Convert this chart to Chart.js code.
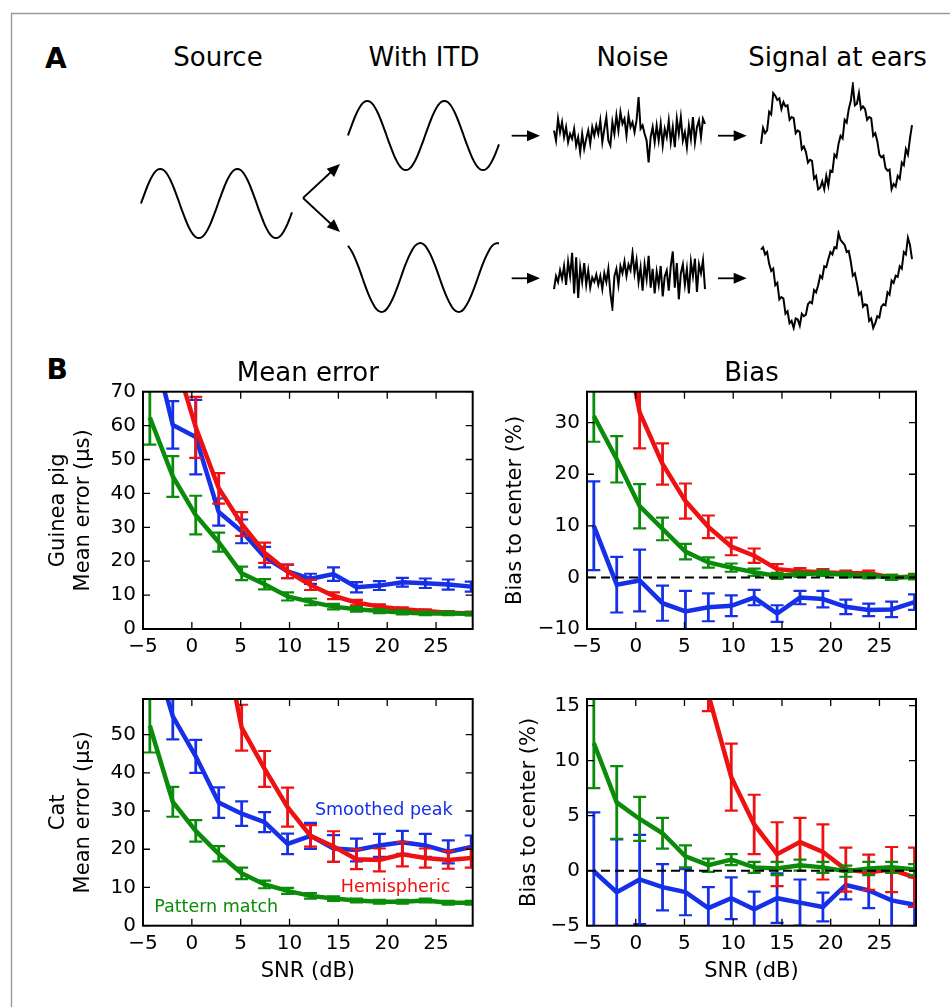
<!DOCTYPE html>
<html>
<head>
<meta charset="utf-8">
<script src="https://cdn.jsdelivr.net/npm/chart.js@4.4.1/dist/chart.umd.min.js"></script>
<style>
  html, body { margin: 0; padding: 0; background: #fff; }
  body { width: 950px; height: 1007px; position: relative; overflow: hidden; }
  canvas, svg { position: absolute; }
</style>
</head>
<body>
<svg id="deco" width="950" height="1007" style="left:0;top:0" font-family="'DejaVu Sans', sans-serif">
  <path d="M11.5 1007 V13.5 H950" fill="none" stroke="#9a9a9a" stroke-width="1.4"/>
  <text x="45" y="68.3" font-size="28" font-weight="bold">A</text>
  <text x="46.5" y="379.3" font-size="28" font-weight="bold">B</text>
  <g font-size="26" text-anchor="middle">
    <text x="218" y="66">Source</text>
    <text x="424" y="66">With ITD</text>
    <text x="632.5" y="66">Noise</text>
    <text x="837.5" y="66">Signal at ears</text>
  </g>
  <g stroke="#000" stroke-width="1.8" fill="#000">
    <line x1="303" y1="198" x2="331" y2="172"/>
    <polygon points="340,164 334.1,176.9 326.7,168.8" stroke="none"/>
    <line x1="303" y1="198" x2="331" y2="224"/>
    <polygon points="340,232 326.7,227.3 334.1,219.2" stroke="none"/>
    <line x1="511.7" y1="135.7" x2="529" y2="135.7"/>
    <polygon points="540,135.7 527,130.2 527,141.2" stroke="none"/>
    <line x1="511.7" y1="278.3" x2="529" y2="278.3"/>
    <polygon points="540,278.3 527,272.8 527,283.8" stroke="none"/>
    <line x1="718" y1="135.7" x2="735" y2="135.7"/>
    <polygon points="746.7,135.7 733.7,130.2 733.7,141.2" stroke="none"/>
    <line x1="718" y1="278.3" x2="735" y2="278.3"/>
    <polygon points="746.7,278.3 733.7,272.8 733.7,283.8" stroke="none"/>
  </g>
</svg>

<canvas id="wSource"></canvas>
<canvas id="wItdTop"></canvas>
<canvas id="wItdBottom"></canvas>
<canvas id="wNoiseTop"></canvas>
<canvas id="wNoiseBottom"></canvas>
<canvas id="wEarsTop"></canvas>
<canvas id="wEarsBottom"></canvas>

<canvas id="gpError" width="453" height="315" style="left:30px;top:350px"></canvas>
<canvas id="gpBias" width="436" height="315" style="left:490px;top:350px"></canvas>
<canvas id="catError" width="453" height="308" style="left:30px;top:680px"></canvas>
<canvas id="catBias" width="436" height="308" style="left:490px;top:680px"></canvas>

<script>
// ---- panel A: waveforms (normalised amplitude) ----
const sourceWave = [0, 0.26, 0.5, 0.71, 0.87, 0.97, 1, 0.97, 0.87, 0.71, 0.5, 0.26,
  0, -0.26, -0.5, -0.71, -0.87, -0.97, -1, -0.97, -0.87, -0.71, -0.5, -0.26,
  0, 0.26, 0.5, 0.71, 0.87, 0.97, 1, 0.97, 0.87, 0.71, 0.5, 0.26,
  0, -0.26, -0.5, -0.71, -0.87, -0.97, -1, -0.97, -0.87, -0.71, -0.5, -0.26];
const delayedWave = [0.92, 0.78, 0.6, 0.37, 0.12, -0.15, -0.4, -0.62, -0.8, -0.93, -0.99, -0.99,
  -0.92, -0.78, -0.6, -0.37, -0.12, 0.15, 0.4, 0.62, 0.8, 0.93, 0.99, 0.99,
  0.92, 0.78, 0.6, 0.37, 0.12, -0.15, -0.4, -0.62, -0.8, -0.93, -0.99, -0.99,
  -0.92, -0.78, -0.6, -0.37, -0.12, 0.15, 0.4, 0.62, 0.8, 0.93, 0.99, 0.99];
const noiseTop = [0.0, -0.3, 0.35, -0.05, 0.25, -0.2, 0.1, -0.35, -0.1, -0.25,
  0.05, -0.45, -0.2, -0.65, -0.1, -0.55, -0.25, 0.0, -0.4, 0.1,
  -0.15, 0.15, -0.1, 0.3, -0.35, 0.05, 0.4, -0.3, -0.45, 0.25,
  -0.1, 0.45, 0.0, 0.55, 0.2, 0.35, -0.15, 0.45, 0.1, 0.25,
  -0.05, 0.3, 1.0, 0.05, 0.15, -0.1, -0.3, -0.95, -0.2, 0.1,
  -0.35, 0.15, -0.3, 0.2, -0.45, 0.05, -0.2, 0.3, -0.35, 0.1,
  -0.5, 0.35, -0.1, 0.4, -0.3, -0.05, -0.5, 0.15, -0.25, 0.4,
  -0.35, 0.1, 0.3, -0.2, 0.35, 0.2];
const noiseBottom = [-0.35, 0.1, -0.1, 0.3, 0.0, 0.45, -0.2, 0.6, 0.1, 0.9,
  -0.5, 0.75, -0.65, 0.4, -0.1, 0.55, -0.2, 0.3, -0.3, 0.05,
  -0.1, 0.15, -0.2, 0.1, -0.35, 0.2, -0.1, 0.35, -0.5, -1.0,
  0.1, 0.35, -0.2, 0.45, 0.2, 0.6, 0.1, 0.5, 0.3, 0.9,
  0.2, 0.65, -0.1, 0.4, -0.4, 0.5, 0.0, 0.8, -0.3, 0.35,
  -0.5, 0.25, -0.2, 0.45, -0.6, 0.1, 0.3, -0.4, 0.45, 0.95,
  -0.3, 0.55, -0.7, 0.2, 0.5, -0.2, 0.35, -0.5, 0.6, 0.1,
  0.7, -0.45, 0.5, 0.2, 0.65, -0.35];
const earsTop = [-0.1, 0.2, 0.1, 0.15, 0.5, 0.45, 0.85,
  0.8, 0.72, 0.75, 0.55, 0.68, 0.6, 0.62, 0.35,
  0.4, 0.38, 0.1, 0.15, 0.12, -0.2, -0.15, -0.25, -0.45, -0.4, -0.42, -0.75, -0.7,
  -0.95, -0.92, -0.8, -0.95, -0.7, -0.88,
  -0.6, -0.62, -0.3, -0.35, -0.1, 0.05, 0.0, 0.35, 0.3,
  0.55, 0.7, 1.0, 0.62, 0.65, 0.85, 0.55, 0.6,
  0.55, 0.35, 0.4, 0.38, 0.05, 0.1, -0.05, -0.3,
  -0.35, -0.32, -0.55, -0.6, -0.58, -0.95, -0.85, -0.9,
  -0.7, -0.75, -0.45, -0.5, -0.2, -0.3, 0.0, 0.25];
const earsBottom = [0.65, 0.7, 0.55, 0.6, 0.35, 0.2, 0.25,
  -0.1, -0.05, -0.4, -0.35, -0.38, -0.7, -0.65, -0.9,
  -0.85, -1.0, -0.8, -0.82, -0.95, -0.7, -0.75, -0.72, -0.5, -0.45,
  -0.48, -0.2, -0.25, -0.1, 0.1, 0.05, 0.3, 0.28, 0.45, 0.6, 0.55, 0.7,
  0.68, 1.0, 0.85, 0.8, 0.75, 0.6, 0.62, 0.4,
  0.1, 0.15, -0.05, -0.3, -0.25, -0.55, -0.5, -0.52,
  -0.85, -0.8, -1.0, -0.9, -0.75, -0.78, -0.55, -0.5,
  -0.52, -0.25, -0.3, 0.0, -0.05, 0.1, 0.08, 0.3, 0.25, 0.6, 0.55, 0.9, 0.75, 0.45];

// ---- panel B: SNR axis and tick labels ----
const snrDb = [-4.3, -1.95, 0.4, 2.75, 5.1, 7.45, 9.8, 12.15, 14.5, 16.85, 19.2, 21.55, 23.9, 26.25, 28.6];
const snrTicks = [-5, 0, 5, 10, 15, 20, 25];
const gpErrorTicks = [0, 10, 20, 30, 40, 50, 60, 70];
const gpBiasTicks = [-10, 0, 10, 20, 30];
const catErrorTicks = [0, 10, 20, 30, 40, 50];
const catBiasTicks = [-5, 0, 5, 10, 15];

// guinea pig, mean error (us)
const gpErrPattern = [62.4, 45, 33.6, 25.6, 16.4, 13.2, 9.6, 8.0, 6.6, 5.8, 5.3, 4.9, 4.6, 4.6, 4.5];
const gpErrPatternSd = [8, 6, 5.7, 2.8, 2, 1.5, 1.2, 1, 0.8, 0.7, 0.6, 0.6, 0.5, 0.5, 0.5];
const gpErrHemi = [110, 82, 59.5, 41.5, 31, 22.5, 17, 13, 9.8, 7.8, 6.6, 5.8, 5.3, 4.8, 4.6];
const gpErrHemiSd = [10, 9, 9, 4.5, 3.5, 3, 2, 1.5, 1, 0.8, 0.7, 0.6, 0.5, 0.5, 0.5];
const gpErrSmooth = [88, 60.2, 56.6, 34.5, 28.8, 21.2, 17.0, 14.8, 16.2, 12.3, 12.8, 13.8, 13.5, 13.1, 12.5];
const gpErrSmoothSd = [10, 7, 11, 4, 3.5, 3, 2, 1.5, 2, 1.5, 1.3, 1.3, 1.4, 1.5, 1.5];

// guinea pig, bias to center (%)
const gpBiasPattern = [31.3, 22.9, 13.8, 9.4, 5.0, 2.9, 1.9, 1.0, 0.3, 0.6, 0.8, 0.5, 0.3, 0.0, 0.1];
const gpBiasPatternSd = [5, 4.5, 4.3, 2.2, 1.5, 1.0, 0.8, 0.7, 0.6, 0.5, 0.5, 0.5, 0.5, 0.5, 0.5];
const gpBiasHemi = [75, 55, 32, 22, 14.8, 9.8, 6.0, 4.2, 1.6, 1.2, 1.0, 0.8, 0.8, 0.0, 0.2];
const gpBiasHemiSd = [8, 8, 7, 4, 3.4, 2.2, 1.7, 1.4, 1.0, 0.6, 0.6, 0.5, 0.5, 0.5, 0.5];
const gpBiasSmooth = [10, -1.4, -0.6, -5.0, -6.6, -5.8, -5.5, -3.9, -7.0, -3.9, -4.2, -5.7, -6.3, -6.2, -4.8];
const gpBiasSmoothSd = [8.6, 5.4, 6, 3.4, 4, 2.7, 2, 1.5, 1.6, 1.3, 1.6, 1.4, 1.2, 1.5, 1.5];

// cat, mean error (us)
const catErrPattern = [52.3, 32.4, 24.8, 18.8, 13.7, 10.8, 9.1, 7.8, 7.1, 6.6, 6.25, 6.25, 6.6, 6.0, 6.0];
const catErrPatternSd = [7, 3.9, 2.8, 2.0, 1.5, 1.0, 0.8, 0.7, 0.6, 0.5, 0.5, 0.5, 0.5, 0.5, 0.5];
const catErrHemi = [140, 115, 100, 82, 51.8, 41, 31, 23.5, 20.7, 17.4, 17.2, 18.7, 17.7, 17.2, 17.7];
const catErrHemiSd = [8, 8, 8, 8, 6, 4.7, 5.1, 2.8, 4, 2.6, 3, 3.2, 2.5, 2.3, 2.5];
const catErrSmooth = [75, 54.75, 44.3, 32.2, 29.3, 27.1, 21.4, 23.5, 20.2, 19.8, 21.0, 21.8, 21.0, 19.3, 20.6];
const catErrSmoothSd = [8, 6, 4.3, 4, 3.2, 2.6, 2.7, 3.4, 3.5, 3, 3, 3, 3, 3, 3];

// cat, bias to center (%)
const catBiasPattern = [11.6, 6.2, 4.7, 3.4, 1.3, 0.5, 1.0, 0.3, 0.2, 0.5, 0.3, -0.05, 0.2, 0.3, 0.1];
const catBiasPatternSd = [4.1, 3.3, 2.0, 1.4, 1.0, 0.6, 0.5, 0.5, 0.6, 0.5, 0.5, 0.5, 0.6, 0.5, 0.5];
const catBiasHemi = [40, 35, 30, 26, 22, 16.0, 8.5, 4.2, 1.5, 2.6, 1.7, 0.1, -0.15, 0.1, -0.6];
const catBiasHemiSd = [3, 3, 3, 3, 3, 1.5, 3.05, 2.7, 2.9, 2.2, 2.5, 2.0, 1.6, 2.05, 2.7];
const catBiasSmooth = [-0.05, -1.95, -0.8, -1.5, -1.95, -3.4, -2.5, -3.5, -2.5, -2.9, -3.3, -1.3, -1.8, -2.7, -3.1];
const catBiasSmoothSd = [5.35, 4.8, 4.05, 2.1, 2.1, 1.9, 1.9, 1.6, 2.25, 2.1, 1.3, 1.3, 1.6, 2.5, 2.5];

const BLUE = '#1530e6';
const GREEN = '#0a8c0a';
const RED = '#ee1111';
const FONT = "'DejaVu Sans', sans-serif";

Chart.defaults.font.family = FONT;
Chart.defaults.color = '#000';

// small waveform plots of panel A
function waveChart(id, values, box, tension) {
  const pad = 3;
  const cv = document.getElementById(id);
  cv.width = Math.round(box.r - box.l + 2 * pad);
  cv.height = Math.round(box.b - box.t + 2 * pad);
  cv.style.left = (box.l - pad) + 'px';
  cv.style.top = (box.t - pad) + 'px';
  new Chart(cv, {
    type: 'line',
    data: {
      labels: values.map((v, i) => i),
      datasets: [{ data: values, borderColor: '#000', borderWidth: 2, pointRadius: 0, tension: tension, clip: false }]
    },
    options: {
      responsive: false, animation: false, events: [],
      layout: { padding: pad },
      plugins: { legend: { display: false }, tooltip: { enabled: false } },
      scales: { x: { display: false }, y: { display: false, min: -1, max: 1 } }
    }
  });
}

waveChart('wSource', sourceWave, { l: 141, r: 292, t: 169, b: 238 }, 0.4);
waveChart('wItdTop', sourceWave, { l: 347.7, r: 498.3, t: 100.7, b: 170 }, 0.4);
waveChart('wItdBottom', delayedWave, { l: 347.7, r: 498.3, t: 243.3, b: 312.3 }, 0.4);
waveChart('wNoiseTop', noiseTop, { l: 554, r: 705, t: 96.7, b: 163.3 }, 0);
waveChart('wNoiseBottom', noiseBottom, { l: 554, r: 705, t: 250, b: 308.3 }, 0);
waveChart('wEarsTop', earsTop, { l: 760.7, r: 911.7, t: 85, b: 191.7 }, 0);
waveChart('wEarsBottom', earsBottom, { l: 760.7, r: 911.7, t: 233.3, b: 328.3 }, 0);

// error bars, frame, inward ticks, zero line and titles
const axesFrame = {
  id: 'axesFrame',
  afterDatasetDraw(chart, args) {
    const ds = chart.data.datasets[args.index];
    if (!ds.errors) return;
    const { ctx, chartArea: a, scales: { x, y } } = chart;
    ctx.save();
    ctx.beginPath();
    ctx.rect(a.left, a.top, a.right - a.left, a.bottom - a.top);
    ctx.clip();
    ctx.strokeStyle = ds.borderColor;
    ds.data.forEach((p, i) => {
      const px = x.getPixelForValue(p.x);
      const lo = y.getPixelForValue(p.y - ds.errors[i]);
      const hi = y.getPixelForValue(p.y + ds.errors[i]);
      ctx.lineWidth = 2.8;
      ctx.beginPath();
      ctx.moveTo(px, lo); ctx.lineTo(px, hi);
      ctx.stroke();
      ctx.lineWidth = 2.2;
      ctx.beginPath();
      ctx.moveTo(px - 6.5, lo); ctx.lineTo(px + 6.5, lo);
      ctx.moveTo(px - 6.5, hi); ctx.lineTo(px + 6.5, hi);
      ctx.stroke();
    });
    ctx.restore();
  },
  afterDatasetsDraw(chart, args, opts) {
    const { ctx, chartArea: a, scales: { x, y } } = chart;
    ctx.save();
    if (opts.zeroLine) {
      const py = y.getPixelForValue(0);
      ctx.strokeStyle = '#000';
      ctx.lineWidth = 2;
      ctx.setLineDash([9, 5]);
      ctx.beginPath();
      ctx.moveTo(a.left, py); ctx.lineTo(a.right, py);
      ctx.stroke();
      ctx.setLineDash([]);
    }
    ctx.strokeStyle = '#000';
    ctx.lineWidth = 1.3;
    ctx.beginPath();
    x.ticks.forEach(t => {
      const px = x.getPixelForValue(t.value);
      ctx.moveTo(px, a.bottom); ctx.lineTo(px, a.bottom - 7);
      ctx.moveTo(px, a.top); ctx.lineTo(px, a.top + 7);
    });
    y.ticks.forEach(t => {
      const py = y.getPixelForValue(t.value);
      ctx.moveTo(a.left, py); ctx.lineTo(a.left + 7, py);
      ctx.moveTo(a.right, py); ctx.lineTo(a.right - 7, py);
    });
    ctx.stroke();
    ctx.lineWidth = 2;
    ctx.strokeRect(a.left, a.top, a.right - a.left, a.bottom - a.top);

    if (opts.title) {
      ctx.fillStyle = '#000';
      ctx.font = '26px ' + FONT;
      ctx.textAlign = 'center';
      ctx.textBaseline = 'alphabetic';
      ctx.fillText(opts.title, (a.left + a.right) / 2, a.top - 10.7);
    }
    (opts.notes || []).forEach(n => {
      ctx.fillStyle = n.color;
      ctx.font = '17.5px ' + FONT;
      ctx.textAlign = 'left';
      ctx.textBaseline = 'alphabetic';
      ctx.fillText(n.text, x.getPixelForValue(n.x), y.getPixelForValue(n.y));
    });
    ctx.restore();
  }
};

const fmt = v => (v < 0 ? '\u2212' + Math.abs(v) : String(v));

function panel(id, cfg) {
  const series = [
    { mean: cfg.pattern, sd: cfg.patternSd, color: GREEN },
    { mean: cfg.hemi, sd: cfg.hemiSd, color: RED },
    { mean: cfg.smooth, sd: cfg.smoothSd, color: BLUE }
  ];
  new Chart(document.getElementById(id), {
    type: 'line',
    data: {
      datasets: series.map(s => ({
        data: snrDb.map((x, i) => ({ x: x, y: s.mean[i] })),
        errors: s.sd,
        borderColor: s.color,
        borderWidth: 4.5,
        pointRadius: 0,
        tension: 0
      }))
    },
    options: {
      responsive: false, animation: false, events: [],
      layout: { padding: cfg.pad },
      plugins: {
        legend: { display: false },
        tooltip: { enabled: false },
        axesFrame: { title: cfg.title, zeroLine: cfg.zeroLine, notes: cfg.notes }
      },
      scales: {
        x: {
          type: 'linear', min: -5, max: 28.75,
          grid: { display: false, drawTicks: false },
          border: { display: false },
          afterBuildTicks: s => { s.ticks = snrTicks.map(v => ({ value: v })); },
          afterFit: s => { s.height = cfg.xHeight; },
          ticks: { font: { size: 20 }, color: '#000', padding: 6, autoSkip: false, maxRotation: 0, callback: fmt },
          title: cfg.xTitle
            ? { display: true, text: 'SNR (dB)', color: '#000', font: { size: 21, lineHeight: 1.1667 }, padding: { top: 0, bottom: 4 } }
            : { display: false }
        },
        y: {
          type: 'linear', min: cfg.yMin, max: cfg.yMax,
          grid: { display: false, drawTicks: false },
          border: { display: false },
          afterBuildTicks: s => { s.ticks = cfg.yTicks.map(v => ({ value: v })); },
          afterFit: s => { s.width = cfg.yWidth; },
          ticks: { font: { size: 20 }, color: '#000', padding: 7, callback: fmt },
          title: { display: true, text: cfg.yTitle, color: '#000', font: { size: 21, lineHeight: 1.1667 }, padding: { top: cfg.yTitlePad, bottom: 0 } }
        }
      }
    },
    plugins: [axesFrame]
  });
}

panel('gpError', {
  pattern: gpErrPattern, patternSd: gpErrPatternSd,
  hemi: gpErrHemi, hemiSd: gpErrHemiSd,
  smooth: gpErrSmooth, smoothSd: gpErrSmoothSd,
  yMin: 0, yMax: 70, yTicks: gpErrorTicks,
  yTitle: ['Guinea pig', 'Mean error (\u03bcs)'], yTitlePad: 16.5, yWidth: 113,
  xHeight: 36, xTitle: false,
  pad: { top: 41.7, right: 10.3, bottom: 0, left: 0 },
  title: 'Mean error'
});

panel('gpBias', {
  pattern: gpBiasPattern, patternSd: gpBiasPatternSd,
  hemi: gpBiasHemi, hemiSd: gpBiasHemiSd,
  smooth: gpBiasSmooth, smoothSd: gpBiasSmoothSd,
  yMin: -10, yMax: 36, yTicks: gpBiasTicks,
  yTitle: 'Bias to center (%)', yTitlePad: 13.5, yWidth: 97,
  xHeight: 36, xTitle: false,
  pad: { top: 41.7, right: 10, bottom: 0, left: 0 },
  title: 'Bias', zeroLine: true
});

panel('catError', {
  pattern: catErrPattern, patternSd: catErrPatternSd,
  hemi: catErrHemi, hemiSd: catErrHemiSd,
  smooth: catErrSmooth, smoothSd: catErrSmoothSd,
  yMin: 0, yMax: 59.3, yTicks: catErrorTicks,
  yTitle: ['Cat', 'Mean error (\u03bcs)'], yTitlePad: 16.5, yWidth: 113,
  xHeight: 62.3, xTitle: true,
  pad: { top: 8.3, right: 10.3, bottom: 0, left: 0 },
  notes: [
    { text: 'Smoothed peak', x: 12.6, y: 28.9, color: BLUE },
    { text: 'Hemispheric', x: 15.25, y: 8.9, color: RED },
    { text: 'Pattern match', x: -3.85, y: 3.5, color: GREEN }
  ]
});

panel('catBias', {
  pattern: catBiasPattern, patternSd: catBiasPatternSd,
  hemi: catBiasHemi, hemiSd: catBiasHemiSd,
  smooth: catBiasSmooth, smoothSd: catBiasSmoothSd,
  yMin: -5, yMax: 15.6, yTicks: catBiasTicks,
  yTitle: 'Bias to center (%)', yTitlePad: 27, yWidth: 97,
  xHeight: 62.3, xTitle: true,
  pad: { top: 8.3, right: 10, bottom: 0, left: 0 },
  zeroLine: true
});
</script>
</body>
</html>
